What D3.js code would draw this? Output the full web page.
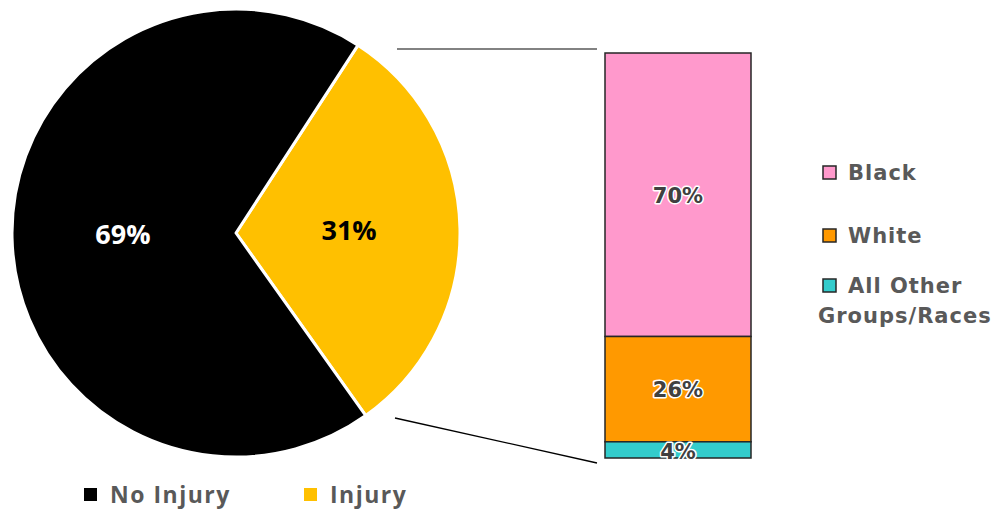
<!DOCTYPE html>
<html><head><meta charset="utf-8">
<script src="https://cdn.jsdelivr.net/npm/d3@7"></script>
<style>body{margin:0;background:#fff}svg{display:block}</style>
</head><body>
<svg id="c" width="1002" height="512"></svg>
<script>
const pieCategories = ["Injury", "No Injury"];
const pieValues = [31, 69];
const pieColors = ["#FFC000", "#000000"];
const pieLabelColors = ["#000000", "#FFFFFF"];

const barCategories = ["Black", "White", "All Other Groups/Races"];
const barValues = [70, 26, 4];
const barColors = ["#FF99CC", "#FF9900", "#33CCCC"];

const svg = d3.select("#c");
const fontA = "'Open Sans', Lato, sans-serif";
const fontB = "'DejaVu Sans', Verdana, sans-serif";

// Pie
const cx = 236, cy = 233, R = 224;
const pie = d3.pie().sort(null).value(d => d.v)
  .startAngle(33 * Math.PI / 180).endAngle(33 * Math.PI / 180 + 2 * Math.PI);
const data = pieCategories.map((c, i) => ({c, v: pieValues[i], i}));
const arcs = pie(data);
const arc = d3.arc().innerRadius(0).outerRadius(R);
const g = svg.append("g").attr("transform", `translate(${cx},${cy})`);
g.selectAll("path").data(arcs).join("path")
  .attr("d", arc).attr("fill", d => pieColors[d.data.i])
  .attr("stroke", "#fff").attr("stroke-width", 3).attr("stroke-linejoin", "round");
const labelArc = d3.arc().innerRadius(R * 0.505).outerRadius(R * 0.505);
g.selectAll("text").data(arcs).join("text")
  .attr("x", d => labelArc.centroid(d)[0]).attr("y", d => labelArc.centroid(d)[1] + 9)
  .attr("text-anchor", "middle")
  .attr("font-family", fontA).attr("font-weight", "bold").attr("font-size", 27)
  .attr("fill", d => pieLabelColors[d.data.i])
  .text(d => d.data.v + "%");

// Stacked bar
const bx = 605, bw = 146, btop = 53, bbot = 458;
const y = d3.scaleLinear().domain([0, 100]).range([bbot, btop]);
let cum = 0;
const stacks = barCategories.map((c, i) => {
  const o = {c, v: barValues[i], i, y0: 100 - cum - barValues[i], y1: 100 - cum};
  cum += barValues[i];
  return o;
});
// connector lines
svg.append("line").attr("x1", 397).attr("y1", 49).attr("x2", 597).attr("y2", 49)
  .attr("stroke", "#595959").attr("stroke-width", 1.5);
svg.append("line").attr("x1", 395).attr("y1", 418).attr("x2", 597).attr("y2", 463)
  .attr("stroke", "#000").attr("stroke-width", 1.3);

const bg = svg.append("g");
bg.selectAll("rect").data(stacks).join("rect")
  .attr("x", bx).attr("width", bw)
  .attr("y", d => y(d.y1)).attr("height", d => y(d.y0) - y(d.y1))
  .attr("fill", d => barColors[d.i]).attr("stroke", "#262626").attr("stroke-width", 1.5);
bg.selectAll("text").data(stacks).join("text")
  .attr("x", bx + bw / 2).attr("y", d => (y(d.y0) + y(d.y1)) / 2 + 8 + (d.i === 2 ? 1 : 0))
  .attr("text-anchor", "middle")
  .attr("font-family", fontB).attr("font-weight", "bold").attr("font-size", 21)
  .attr("fill", "#404040").attr("stroke", "#fff").attr("stroke-width", 3)
  .attr("paint-order", "stroke").attr("stroke-linejoin", "round")
  .text(d => d.v + "%");

// Right legend
const leg = [
  {i: 0, lines: ["Black"], y: 180},
  {i: 1, lines: ["White"], y: 243},
  {i: 2, lines: ["All Other", "Groups/Races"], y: 293}
];
leg.forEach(l => {
  svg.append("rect").attr("x", 823).attr("y", l.y - 14).attr("width", 13).attr("height", 13)
    .attr("fill", barColors[l.i]).attr("stroke", "#262626").attr("stroke-width", 1.5);
  svg.append("text").attr("x", 848).attr("y", l.y)
    .attr("font-family", fontB).attr("font-weight", "bold").attr("font-size", 21)
    .attr("letter-spacing", 1)
    .attr("fill", "#595959").text(l.lines[0]);
  if (l.lines[1]) {
    svg.append("text").attr("x", 818).attr("y", l.y + 30)
      .attr("font-family", fontB).attr("font-weight", "bold").attr("font-size", 21)
      .attr("letter-spacing", 1)
      .attr("fill", "#595959").text(l.lines[1]);
  }
});

// Bottom legend
const bl = [{i: 1, x: 84}, {i: 0, x: 304}];
bl.forEach(b => {
  svg.append("rect").attr("x", b.x).attr("y", 488).attr("width", 13).attr("height", 13)
    .attr("fill", pieColors[b.i]);
  svg.append("text").attr("x", b.x + 26).attr("y", 503)
    .attr("font-family", fontA).attr("font-weight", "bold").attr("font-size", 23)
    .attr("letter-spacing", 1.5)
    .attr("fill", "#595959").text(pieCategories[b.i]);
});
</script>
</body></html>
